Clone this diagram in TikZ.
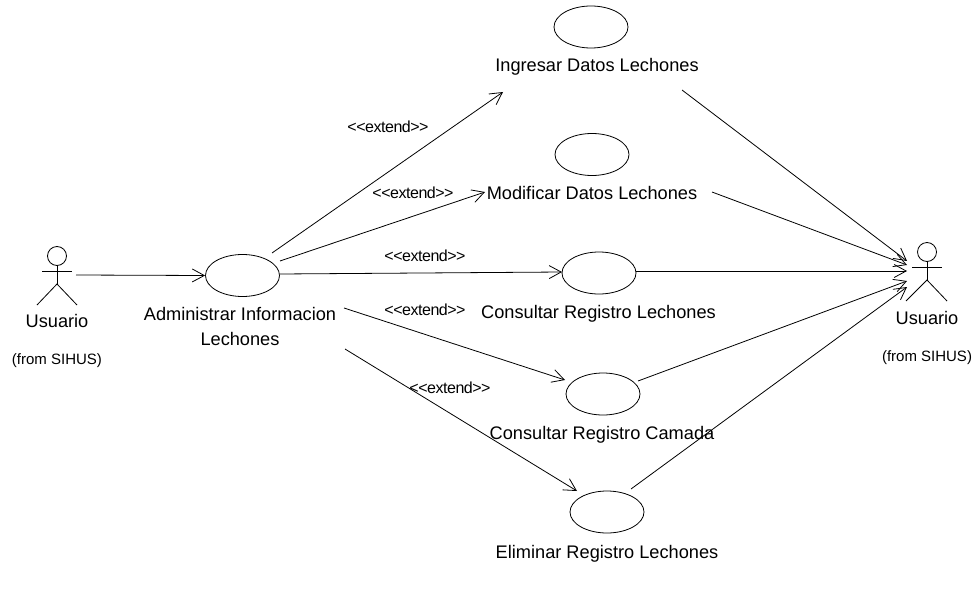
\documentclass[tikz,border=0pt]{standalone}
\usepackage{fontspec}
\setmainfont{Liberation Sans}
\newfontfamily\tightfont[LetterSpace=-3]{Liberation Sans}
\usetikzlibrary{arrows.meta,shapes.geometric}
\tikzset{
  usecase/.style={draw=black,line width=0.8pt,ellipse,inner sep=0pt,minimum width=74pt,minimum height=42pt},
  lbl/.style={inner sep=0pt,font=\fontsize{18.2}{25}\selectfont,align=center},
  from/.style={inner sep=0pt,font=\fontsize{15}{16}\selectfont},
  ster/.style={inner sep=0pt,font=\tightfont\fontsize{16}{16}\selectfont},
  conn/.style={line width=0.8pt,-{Straight Barb[length=12pt,width=13pt,line width=0.8pt]}},
  limb/.style={line width=0.8pt}
}
\begin{document}
\begin{tikzpicture}[x=1pt,y=-1pt]
\useasboundingbox (0,0) rectangle (979,591);
\node[usecase] (ing) at (591,27) {};
\node[usecase] (mod) at (592,154.5) {};
\node[usecase] (cons) at (599,273) {};
\node[usecase] (cam) at (603,394) {};
\node[usecase] (eli) at (607,512) {};
\node[usecase] (adm) at (242.5,275.5) {};
\node[lbl] (ingT) at (597,67) {Ingresar Datos Lechones};
\node[lbl] (modT) at (592,193) {Modificar Datos Lechones};
\node[lbl] (consT) at (598.5,314) {Consultar Registro Lechones};
\node[lbl] (camT) at (602,435) {Consultar Registro Camada};
\node[lbl] (eliT) at (607,554) {Eliminar Registro Lechones};
\node[lbl] (admT) at (240,326) {Administrar Informacion\\Lechones};
\node[lbl] (uL) at (57,321) {Usuario};
\node[from] (fL) at (57,361) {(from SIHUS)};
\node[lbl] (uR) at (927,318) {Usuario};
\node[from] (fR) at (927,358) {(from SIHUS)};
\node[ster] (e1) at (388,127) {<{}<extend>{}>};
\node[ster] (e2) at (413,193) {<{}<extend>{}>};
\node[ster] (e3) at (425,256) {<{}<extend>{}>};
\node[ster] (e4) at (425,310) {<{}<extend>{}>};
\node[ster] (e5) at (450,388) {<{}<extend>{}>};
% left actor
\node[draw,circle,line width=0.8pt,inner sep=0pt,minimum size=19pt] (hL) at (57,256) {};
\coordinate (aL1) at (42,271); \coordinate (aL2) at (72,271);
\coordinate (hipL) at (57,284); \coordinate (fL1) at (37,305); \coordinate (fL2) at (77,305);
\draw[limb] (hL.south) -- (hipL); \draw[limb] (aL1) -- (aL2);
\draw[limb] (fL1) -- (hipL) -- (fL2);
% right actor
\node[draw,circle,line width=0.8pt,inner sep=0pt,minimum size=19pt] (hR) at (927,252) {};
\coordinate (aR1) at (912,267); \coordinate (aR2) at (942,267);
\coordinate (hipR) at (927,280); \coordinate (fR1) at (906,301); \coordinate (fR2) at (947,301);
\draw[limb] (hR.south) -- (hipR); \draw[limb] (aR1) -- (aR2);
\draw[limb] (fR1) -- (hipR) -- (fR2);
% connector ends
\coordinate (s0) at (76,275);
\coordinate (a1) at (272,253); \coordinate (b1) at (503,92);
\coordinate (a2) at (280,261); \coordinate (b2) at (485,192);
\coordinate (a3) at (280,274); \coordinate (b3) at (562,272);
\coordinate (a4) at (344,308); \coordinate (b4) at (565,380);
\coordinate (a5) at (345,349); \coordinate (b5) at (577,491);
\coordinate (r1) at (682,90); \coordinate (t1) at (907,261);
\coordinate (r2) at (712,192); \coordinate (t2) at (907,265);
\coordinate (r3) at (636,271); \coordinate (t3) at (907,271);
\coordinate (r4) at (638,381); \coordinate (t4) at (907,281);
\coordinate (r5) at (631,489); \coordinate (t5) at (907,287);
\draw[conn] (s0) -- (adm.west);
\foreach \i in {1,...,5}{
  \draw[conn] (a\i) -- (b\i);
  \draw[conn] (r\i) -- (t\i);
}
\end{tikzpicture}
\end{document}
